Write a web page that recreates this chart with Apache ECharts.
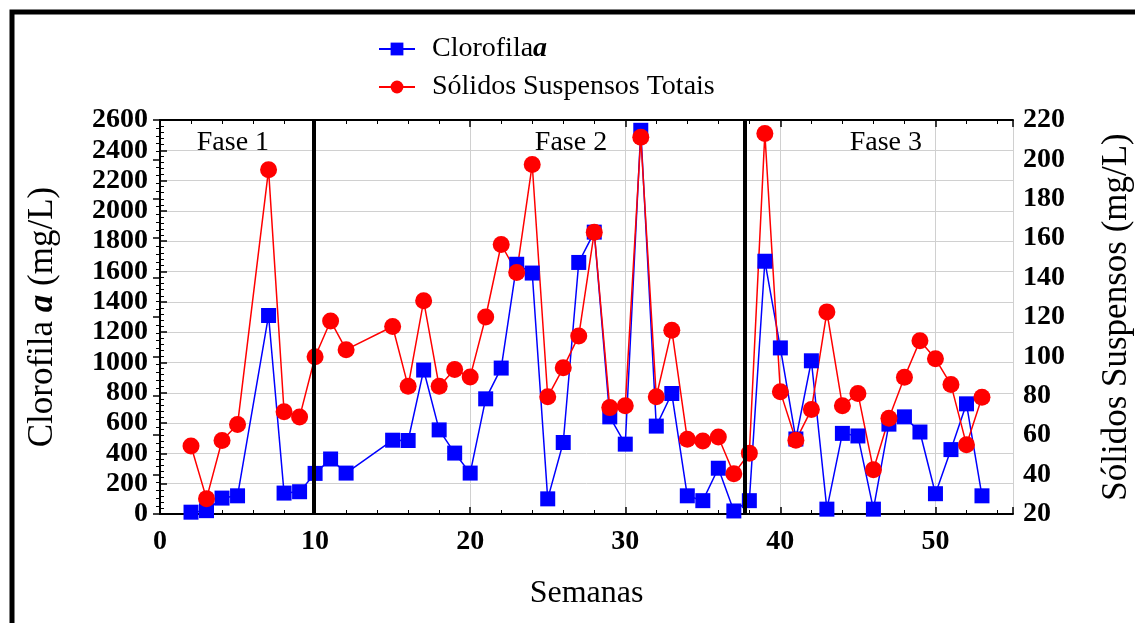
<!DOCTYPE html>
<html>
<head>
<meta charset="utf-8">
<script src="https://cdn.jsdelivr.net/npm/echarts@6/dist/echarts.min.js"></script>
<style>
    html, body { margin: 0; padding: 0; background: #fff; }
    #chart { width: 1135px; height: 623px; }
</style>
</head>
<body>
<div id="chart"></div>
<script>
    // semanas de coleta
    var weeks = [2, 3, 4, 5, 7, 8, 9, 10, 11, 12, 15, 16, 17, 18, 19, 20, 21, 22, 23, 24, 25,
        26, 27, 28, 29, 30, 31, 32, 33, 34, 35, 36, 37, 38, 39, 40, 41, 42, 43, 44, 45, 46,
        47, 48, 49, 50, 51, 52, 53];
    // clorofila a (mg/L) - eixo esquerdo
    var clorofila = [12, 22, 105, 120, 1310, 138, 147, 268, 363, 270, 487, 485, 950, 555, 402,
        270, 760, 963, 1648, 1590, 100, 472, 1660, 1860, 641, 461, 2532, 580, 795, 120, 88, 302,
        20, 88, 1668, 1096, 495, 1011, 32, 532, 515, 32, 593, 641, 541, 134, 425, 727, 120];
    // sólidos suspensos totais (mg/L) - eixo direito
    var solidos = [54.5, 27.8, 57.3, 65.4, 194.8, 71.9, 69.2, 99.8, 118, 103.4, 115.2, 84.8,
        128.2, 84.8, 93.3, 89.6, 120, 156.8, 142.6, 197.4, 79.5, 94.2, 110.4, 163, 74, 75, 211.3,
        79.5, 113.3, 58, 57.1, 59.1, 40.4, 50.9, 213.2, 82, 57.4, 73, 122.6, 75, 81.2, 42.5, 68.6,
        89.4, 108, 98.8, 85.7, 55.2, 79.3];
    // divisões entre as fases
    var phaseBreaks = [9.9, 37.7];
    var phaseNames = ['Fase 1', 'Fase 2', 'Fase 3'];

    var serif = '"Liberation Serif", "DejaVu Serif", serif';

    function pairs(ys) {
        var out = [];
        for (var i = 0; i < weeks.length; i++) {
            out.push([weeks[i], ys[i]]);
        }
        return out;
    }

    var labelWeeks = [4.7, 26.5, 46.8];
    var phaseLabels = [];
    for (var i = 0; i < phaseNames.length; i++) {
        phaseLabels.push({ name: phaseNames[i], coord: [labelWeeks[i], 2450] });
    }

    function plain(v) { return String(v); }

    var chart = echarts.init(document.getElementById('chart'));
    var option = {
        animation: false,
        backgroundColor: '#fff',
        grid: { left: 160, right: 122, top: 120, bottom: 109, outerBoundsMode: 'none' },
        graphic: [{
            type: 'rect',
            shape: { x: 12, y: 12, width: 1200, height: 700 },
            style: { fill: 'none', stroke: '#000', lineWidth: 5 },
            silent: true
        }],
        legend: {
            orient: 'vertical',
            left: 378,
            top: 35,
            padding: 0,
            itemGap: 10,
            itemWidth: 36,
            itemHeight: 16,
            data: ['Clorofila', 'Sólidos Suspensos Totais'],
            formatter: function (name) {
                return name === 'Clorofila' ? '{n|Clorofila}{b|a}' : '{n|' + name + '}';
            },
            textStyle: {
                fontFamily: serif,
                fontSize: 28,
                color: '#000',
                rich: {
                    n: { fontFamily: serif, fontSize: 28, color: '#000', padding: [0, 0, 0, 12] },
                    b: { fontFamily: serif, fontSize: 28, color: '#000', fontStyle: 'italic', fontWeight: 'bold' }
                }
            }
        },
        xAxis: [{
            type: 'value',
            min: 0,
            max: 55,
            interval: 10,
            name: 'Semanas',
            nameLocation: 'middle',
            nameGap: 64,
            nameTextStyle: { fontFamily: serif, fontSize: 32, color: '#000' },
            axisLine: { lineStyle: { color: '#000', width: 2 } },
            axisTick: { inside: true, length: 7, lineStyle: { color: '#000', width: 1.5 } },
            minorTick: { show: true, splitNumber: 5, length: 4, lineStyle: { color: '#000' } },
            axisLabel: {
                fontFamily: serif, fontSize: 28, fontWeight: 'bold', color: '#000', margin: 14,
                showMaxLabel: false, formatter: plain
            },
            splitLine: { show: true, lineStyle: { color: '#d0d0d0', width: 1 } }
        }, {
            type: 'value',
            position: 'top',
            min: 0,
            max: 55,
            interval: 10,
            axisLine: { lineStyle: { color: '#000', width: 2 } },
            axisTick: { inside: true, length: 7, lineStyle: { color: '#000', width: 1.5 } },
            minorTick: { show: true, splitNumber: 5, length: 4, lineStyle: { color: '#000' } },
            axisLabel: { show: false },
            splitLine: { show: false }
        }],
        yAxis: [{
            type: 'value',
            min: 0,
            max: 2600,
            interval: 200,
            name: 'Clorofila {b|a} (mg/L)',
            nameLocation: 'middle',
            nameGap: 100,
            nameTextStyle: {
                fontFamily: serif, fontSize: 35, color: '#000',
                rich: { b: { fontFamily: serif, fontSize: 35, color: '#000', fontStyle: 'italic', fontWeight: 'bold' } }
            },
            axisLine: { show: true, lineStyle: { color: '#000', width: 2 } },
            axisTick: { inside: true, length: 7, lineStyle: { color: '#000', width: 1.5 } },
            minorTick: { show: true, splitNumber: 5, length: 4, lineStyle: { color: '#000' } },
            axisLabel: {
                fontFamily: serif, fontSize: 28, fontWeight: 'bold', color: '#000', margin: 12,
                formatter: plain
            },
            splitLine: { show: true, lineStyle: { color: '#d0d0d0', width: 1 } }
        }, {
            type: 'value',
            min: 20,
            max: 220,
            interval: 20,
            name: 'Sólidos Suspensos (mg/L)',
            nameLocation: 'middle',
            nameGap: 86,
            nameRotate: 90,
            nameTextStyle: { fontFamily: serif, fontSize: 35, color: '#000' },
            axisLine: { show: true, lineStyle: { color: '#000', width: 2 } },
            axisTick: { inside: true, length: 7, lineStyle: { color: '#000', width: 1.5 } },
            minorTick: { show: true, splitNumber: 5, length: 4, lineStyle: { color: '#000' } },
            axisLabel: {
                fontFamily: serif, fontSize: 28, fontWeight: 'bold', color: '#000', margin: 10,
                formatter: plain
            },
            splitLine: { show: false }
        }],
        series: [{
            name: 'Clorofila',
            type: 'line',
            yAxisIndex: 0,
            data: pairs(clorofila),
            symbol: 'rect',
            symbolSize: 15,
            itemStyle: { color: '#0000ff' },
            lineStyle: { color: '#0000ff', width: 1.5 },
            markLine: {
                silent: true,
                symbol: 'none',
                label: { show: false },
                lineStyle: { color: '#000', width: 4, type: 'solid' },
                data: phaseBreaks.map(function (w) { return { xAxis: w }; })
            },
            markPoint: {
                silent: true,
                symbol: 'circle',
                symbolSize: 0,
                label: {
                    show: true,
                    formatter: '{b}',
                    fontFamily: serif,
                    fontSize: 28,
                    color: '#000'
                },
                data: phaseLabels
            }
        }, {
            name: 'Sólidos Suspensos Totais',
            type: 'line',
            yAxisIndex: 1,
            data: pairs(solidos),
            symbol: 'circle',
            symbolSize: 17,
            itemStyle: { color: '#ff0000' },
            lineStyle: { color: '#ff0000', width: 1.5 }
        }]
    };
    chart.setOption(option);
</script>
</body>
</html>
